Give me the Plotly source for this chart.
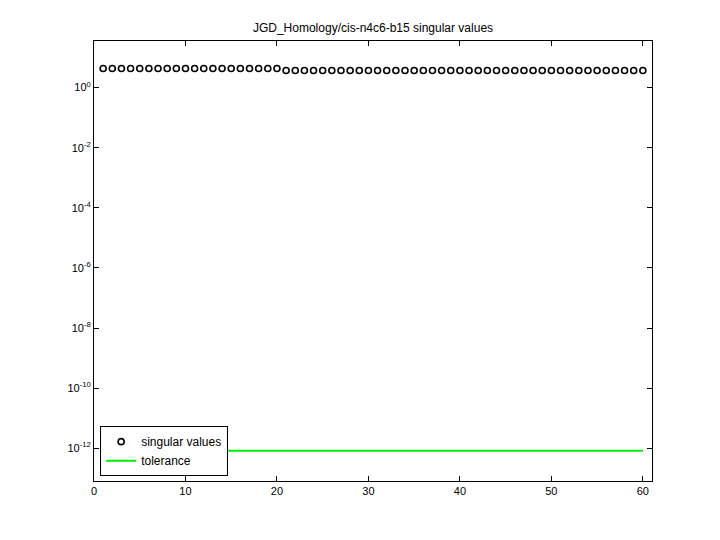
import plotly.graph_objects as go

index = list(range(1, 61))
singular_values = [4.3] * 20 + [3.7] * 40
tolerance_x = [1, 60]
tolerance_y = [8.3e-13, 8.3e-13]

y_tick_exps = [0, -2, -4, -6, -8, -10, -12]
x_ticks = [0, 10, 20, 30, 40, 50, 60]

fig = go.Figure()
fig.add_trace(go.Scatter(
    x=index, y=singular_values, mode="markers", name="singular values",
    marker=dict(symbol="circle-open", size=6, color="black", line=dict(width=1.6, color="black")),
))
fig.add_trace(go.Scatter(
    x=tolerance_x, y=tolerance_y, mode="lines", name="tolerance",
    line=dict(color="#00ee00", width=2),
))

axis_common = dict(
    showgrid=False, zeroline=False, showline=True, linecolor="black", linewidth=1,
    mirror="ticks", ticks="inside", ticklen=5, tickcolor="black",
    tickfont=dict(family="Liberation Sans, Arial", size=11, color="black"),
)
fig.update_xaxes(range=[0, 61], tickvals=x_ticks, **axis_common)
fig.update_yaxes(
    type="log", range=[-13.09, 1.55],
    tickvals=[10 ** e for e in y_tick_exps],
    ticktext=[f"10<sup>{e}</sup>" for e in y_tick_exps],
    **axis_common,
)
fig.update_layout(
    width=720, height=540,
    margin=dict(l=86, r=76, t=33, b=67),
    paper_bgcolor="white", plot_bgcolor="white",
    title=dict(text="JGD_Homology/cis-n4c6-b15 singular values", x=(94 + 652) / 2 / 720 - 8 / 720,
               xanchor="center", y=1 - 20 / 540, yanchor="middle",
               font=dict(family="Liberation Sans, Arial", size=12, color="black")),
    legend=dict(x=0.011, y=0.011, xanchor="left", yanchor="bottom",
                bordercolor="black", borderwidth=1, bgcolor="white",
                font=dict(family="Liberation Sans, Arial", size=12, color="black"),
                tracegroupgap=0, itemwidth=30),
    showlegend=True,
)
fig.write_html("out.html")
